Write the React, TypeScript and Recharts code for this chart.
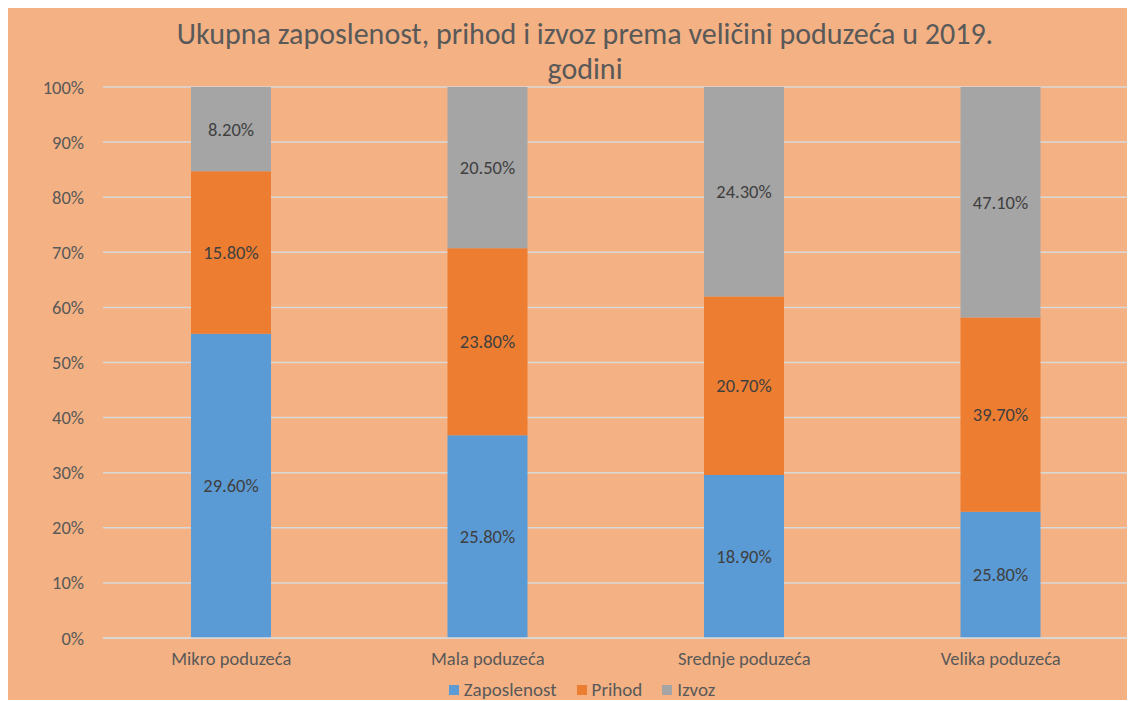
import React from 'react';
import {
    BarChart, Bar, XAxis, YAxis, CartesianGrid, Legend, LabelList
} from 'recharts';

const categories = ['Mikro poduzeća', 'Mala poduzeća', 'Srednje poduzeća', 'Velika poduzeća'];
const zaposlenost = [29.6, 25.8, 18.9, 25.8];
const prihod = [15.8, 23.8, 20.7, 39.7];
const izvoz = [8.2, 20.5, 24.3, 47.1];
const yTicks = [0, 0.1, 0.2, 0.3, 0.4, 0.5, 0.6, 0.7, 0.8, 0.9, 1];

const series = [
    { key: 'Zaposlenost', color: '#5B9BD5' },
    { key: 'Prihod', color: '#ED7D31' },
    { key: 'Izvoz', color: '#A5A5A5' },
];

const data = categories.map((name, i) => ({
    name,
    Zaposlenost: zaposlenost[i],
    Prihod: prihod[i],
    Izvoz: izvoz[i],
}));

const FONT = 'Carlito, Calibri, Lato, sans-serif';
const TEXT = '#595959';

const renderLegend = () => (
    <div style={{ display: 'flex', justifyContent: 'center', gap: 20, fontFamily: FONT, fontSize: 19, lineHeight: '20px', color: TEXT, paddingLeft: 27 }}>
        {series.map(s => (
            <span key={s.key} style={{ display: 'flex', alignItems: 'center', gap: 5 }}>
                <span style={{ width: 10, height: 10, background: s.color, display: 'inline-block' }} />
                {s.key}
            </span>
        ))}
    </div>
);

export default function App() {
    return (
        <div style={{ position: 'relative', width: 1127, height: 692, background: '#F4B183', fontFamily: FONT }}>
            <div style={{
                position: 'absolute', top: 8, left: 0, width: 1154, textAlign: 'center',
                fontSize: 30, lineHeight: '35px', color: TEXT
            }}>
                Ukupna zaposlenost, prihod i izvoz prema veličini poduzeća u 2019.<br />godini
            </div>
            <BarChart
                width={1127}
                height={692}
                data={data}
                stackOffset="expand"
                margin={{ top: 79, right: 6, left: 0, bottom: 0 }}
            >
                <CartesianGrid vertical={false} stroke="#D9D9D9" strokeWidth={1.5} />
                <XAxis
                    dataKey="name"
                    axisLine={{ stroke: '#D9D9D9', strokeWidth: 1.5 }}
                    tickLine={false}
                    tickSize={0}
                    tickMargin={14}
                    height={42}
                    tick={{ fill: TEXT, fontSize: 18.5, fontFamily: FONT }}
                />
                <YAxis
                    width={95}
                    ticks={yTicks}
                    domain={[0, 1]}
                    axisLine={false}
                    tickLine={false}
                    tickSize={0}
                    tickMargin={19}
                    tickFormatter={(v: number) => `${Math.round(v * 100)}%`}
                    tick={{ fill: TEXT, fontSize: 18.5, fontFamily: FONT }}
                />
                <Legend verticalAlign="bottom" height={20} content={renderLegend} />
                {series.map(s => (
                    <Bar key={s.key} dataKey={s.key} stackId="a" fill={s.color} barSize={80} isAnimationActive={false}>
                        <LabelList
                            dataKey={s.key}
                            position="center"
                            fill="#404040"
                            fontSize={18.5}
                            fontFamily={FONT}
                            formatter={(v: any) => `${Number(v).toFixed(2)}%`}
                        />
                    </Bar>
                ))}
            </BarChart>
        </div>
    );
}
